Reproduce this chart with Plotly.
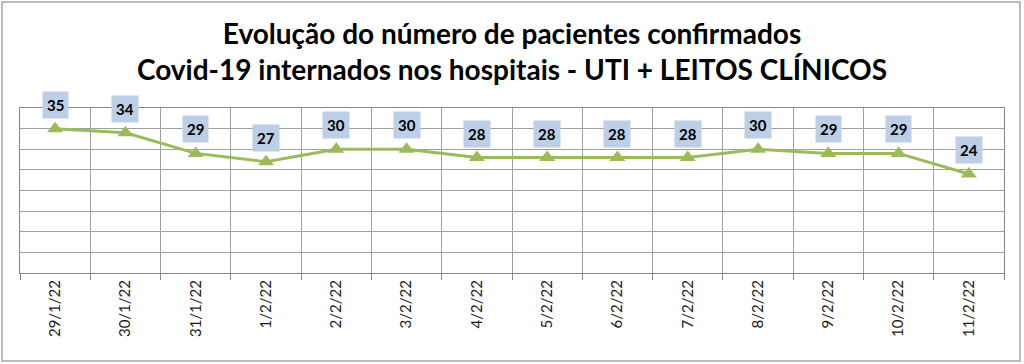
import plotly.graph_objects as go

datas = ["29/1/22", "30/1/22", "31/1/22", "1/2/22", "2/2/22", "3/2/22", "4/2/22",
         "5/2/22", "6/2/22", "7/2/22", "8/2/22", "9/2/22", "10/2/22", "11/2/22"]
internados = [35, 34, 29, 27, 30, 30, 28, 28, 28, 28, 30, 29, 29, 24]

titulo = "<b>Evolução do número de pacientes confirmados<br>Covid-19 internados nos hospitais - UTI + LEITOS CLÍNICOS</b>"

W, H = 1024, 364
L, R, T, B = 20, 20, 108, 91
pw, ph = W - L - R, H - T - B

fig = go.Figure()
fig.add_trace(go.Scatter(
    x=datas, y=internados, mode="lines+markers",
    line=dict(color="#9bbb59", width=3),
    marker=dict(symbol="triangle-up", size=14, color="#9bbb59"),
    showlegend=False, cliponaxis=False, hoverinfo="skip",
))

for d, v in zip(datas, internados):
    fig.add_annotation(
        x=d, y=v, text=f"<b>{v}</b>", showarrow=False, yshift=24,
        bgcolor="#bccfe6", borderpad=4,
        font=dict(family="Lato, Open Sans, sans-serif", size=15, color="#000000"),
    )

# outer chart border
fig.add_shape(type="rect", xref="paper", yref="paper",
              x0=(2 - L) / pw, x1=(W - 4 - L) / pw,
              y0=(T + ph - (H - 3)) / ph, y1=(T + ph - 2) / ph,
              line=dict(color="#a6a6a6", width=1.5), fillcolor="rgba(0,0,0,0)", layer="below")

fig.update_layout(
    width=W, height=H,
    margin=dict(l=L, r=R, t=T, b=B, autoexpand=False),
    paper_bgcolor="white", plot_bgcolor="white",
    title=dict(text=titulo, x=0.5, xanchor="center", y=1 - 44 / H, yanchor="top",
               font=dict(family="Lato, Open Sans, sans-serif", size=28, color="#000000")),
    xaxis=dict(type="category", range=[-0.5, len(datas) - 0.5], tickson="boundaries",
               ticks="outside", ticklen=6,
               tickcolor="#868686", showgrid=True, gridcolor="#a0a0a0", gridwidth=1,
               showline=True, linecolor="#868686", mirror=True, tickangle=-90,
               automargin=False,
               tickfont=dict(family="Lato, Open Sans, sans-serif", size=15, color="#1a1a1a")),
    yaxis=dict(range=[0, 40], dtick=5, showticklabels=False, showgrid=True,
               gridcolor="#a0a0a0", gridwidth=1, showline=True, linecolor="#868686",
               mirror=True, zeroline=False, ticks="", automargin=False),
)

fig.write_html("out.html", config={"displayModeBar": False},
               post_script="document.body.style.margin='0';")
